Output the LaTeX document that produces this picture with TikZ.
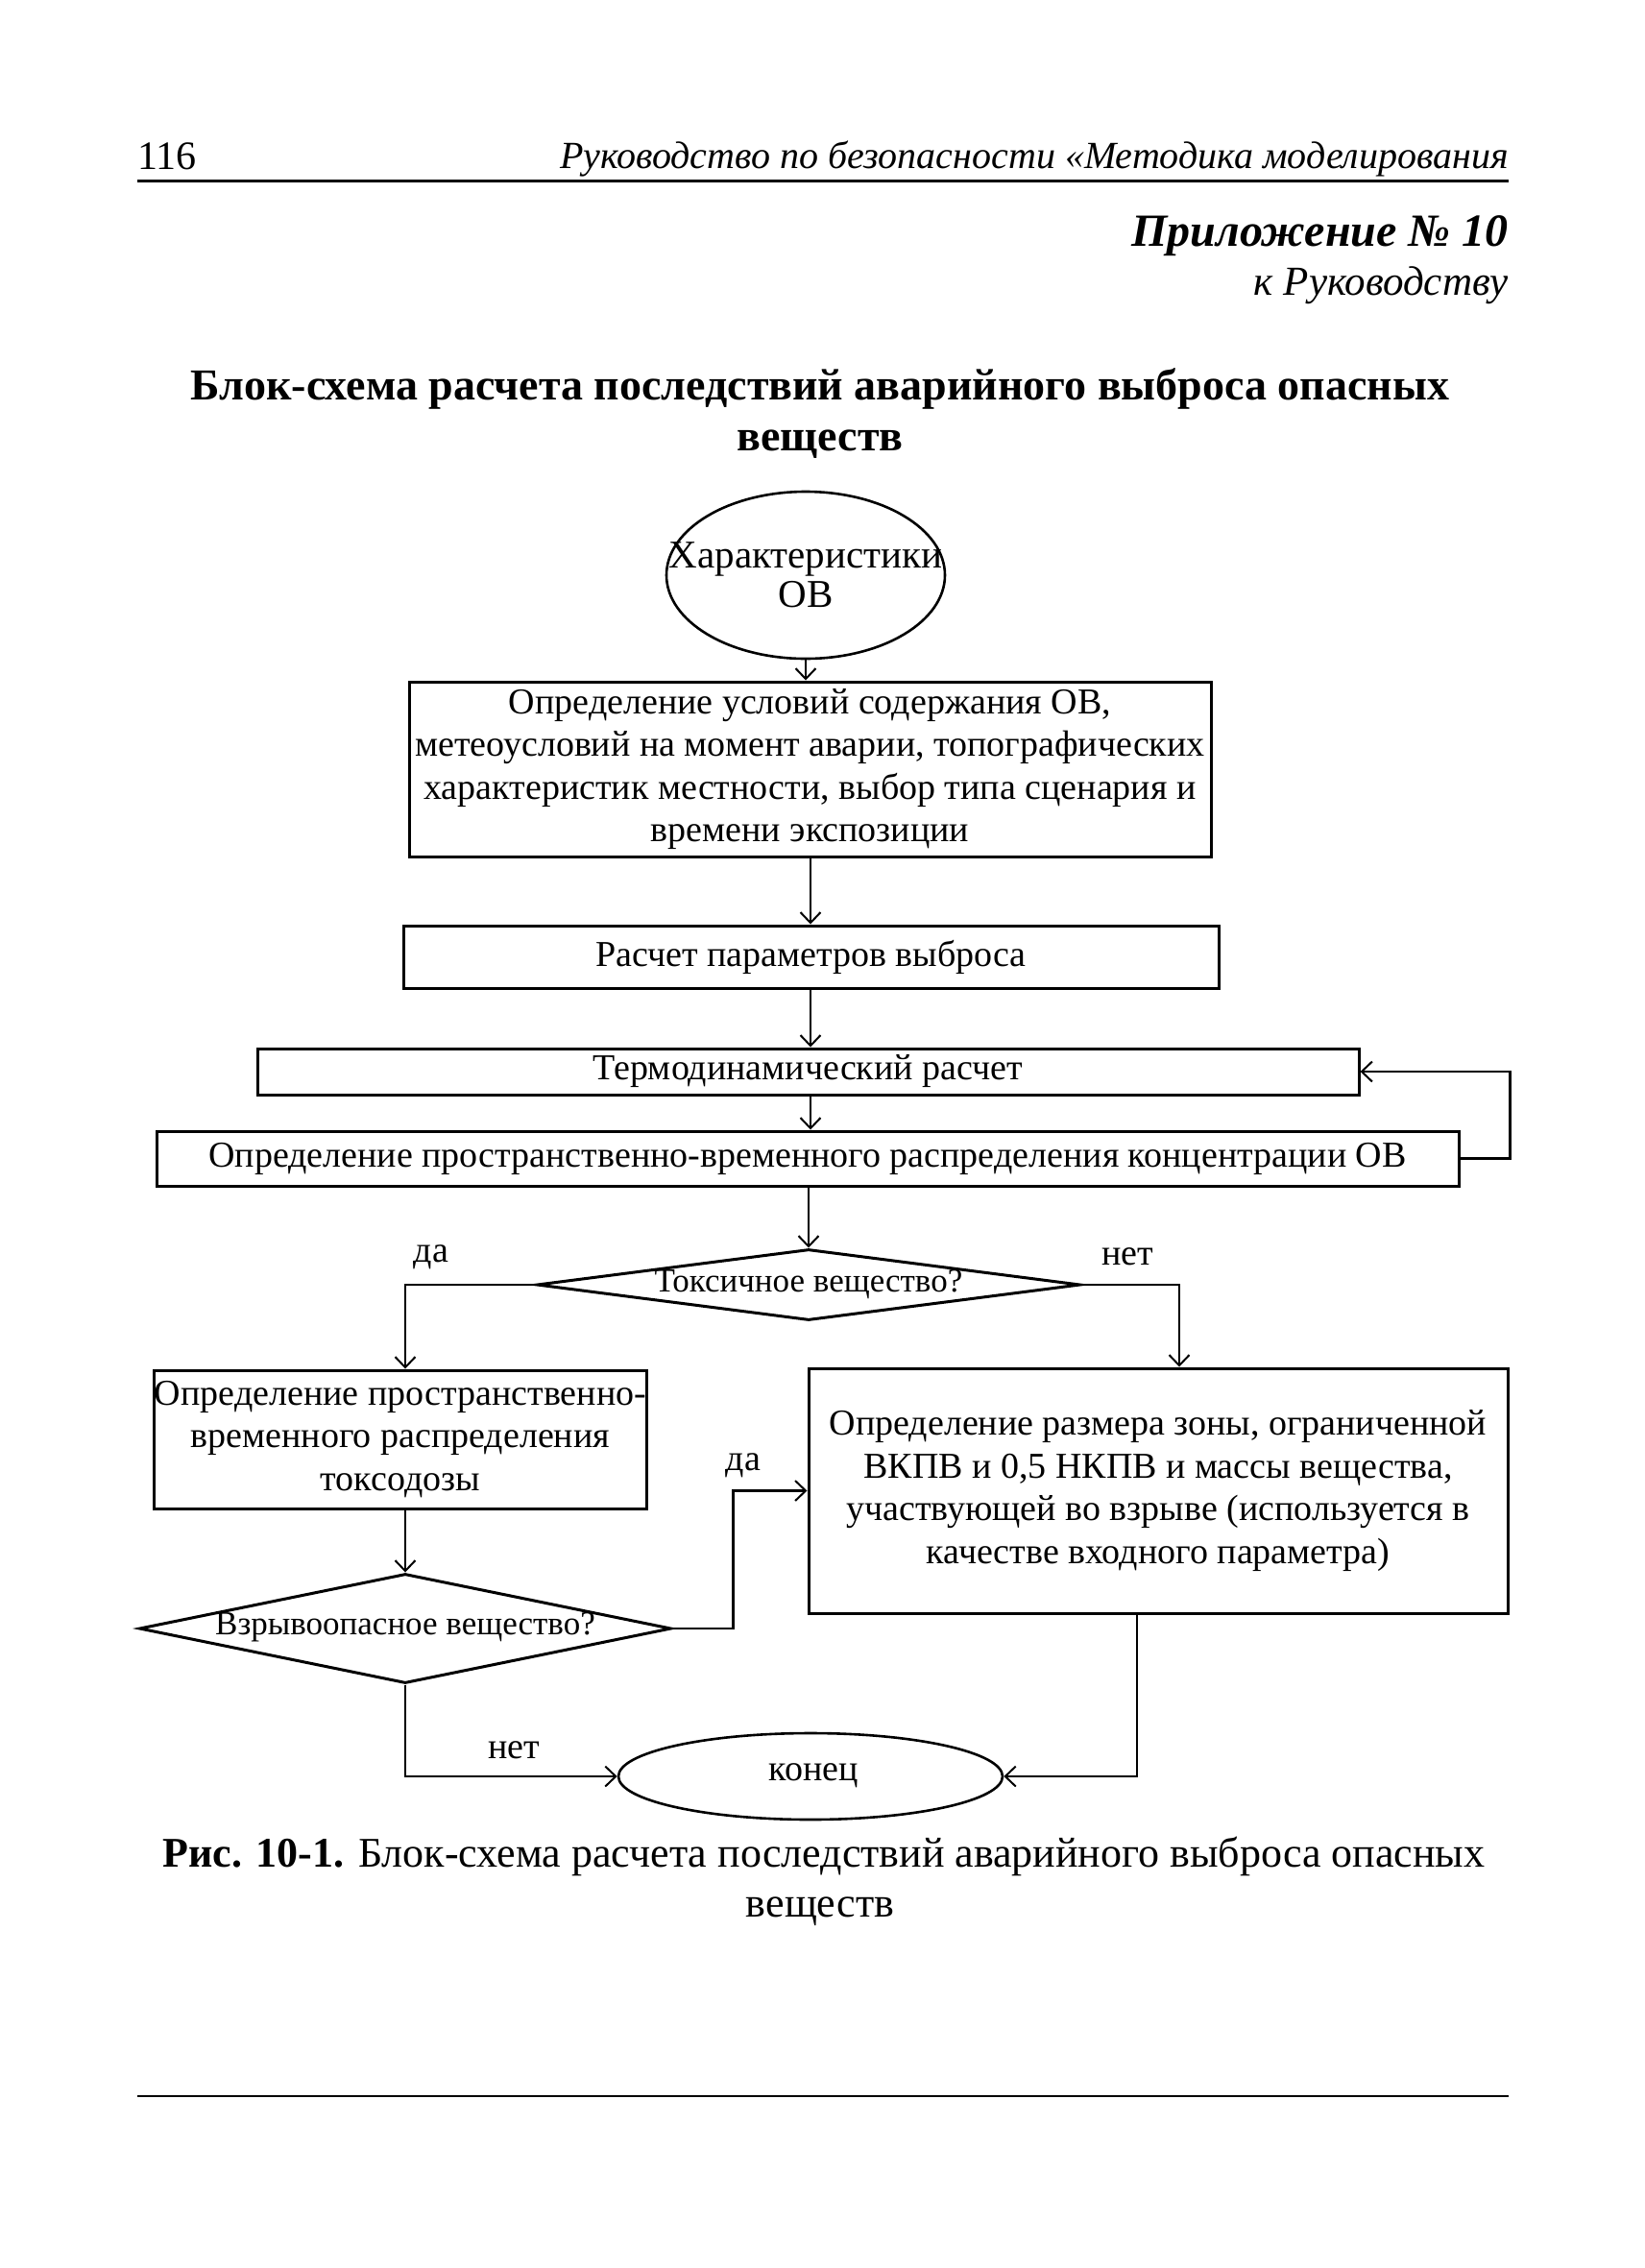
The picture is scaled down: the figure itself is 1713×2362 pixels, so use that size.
\documentclass[tikz,border=0pt]{standalone}
\usepackage{fontspec}
\setmainfont{Liberation Serif}
\usetikzlibrary{arrows.meta,shapes.geometric}
\begin{document}
\begin{tikzpicture}[x=1pt,y=-1pt,
  box/.style={draw, line width=3pt, inner sep=0pt, align=center, font=\fontsize{38}{44.5}\selectfont},
  dia/.style={draw, diamond, line width=3pt, inner sep=0pt},
  ell/.style={draw, ellipse, line width=2.6pt, inner sep=0pt},
  txt/.style={font=\fontsize{38}{44}\selectfont, inner sep=0pt, align=center},
  dtxt/.style={font=\fontsize{35}{40}\selectfont, inner sep=0pt, align=center},
  arr/.style={line width=2.2pt, -{Straight Barb[length=11pt,width=21pt,line width=2pt]}},
  rule/.style={line width=3pt}
]
\fill[white] (0,0) rectangle (1713,2362);
\useasboundingbox (0,0) rectangle (1713,2362);

% header
\node[font=\fontsize{42}{48}\selectfont, inner sep=0pt, anchor=base west] (pg) at (143,176) {116};
\node[font=\fontsize{40}{46}\selectfont\itshape, inner sep=0pt, anchor=base east] (hd) at (1571,175) {Руководство по безопасности «Методика моделирования};
\coordinate (hl1) at (143,188);
\coordinate (hl2) at (1571,188);
\draw[rule] (hl1) -- (hl2);
\node[font=\fontsize{48}{54}\selectfont\bfseries\itshape, inner sep=0pt, anchor=base east] (app) at (1571,256) {Приложение № 10};
\node[font=\fontsize{43}{48}\selectfont\itshape, inner sep=0pt, anchor=base east] (app2) at (1571,307) {к Руководству};

% title
\node[font=\fontsize{46}{53}\selectfont\bfseries, inner sep=0pt, anchor=base] (t1) at (854,416) {Блок-схема расчета последствий аварийного выброса опасных};
\node[font=\fontsize{46}{53}\selectfont\bfseries, inner sep=0pt, anchor=base] (t2) at (854,469) {веществ};

% nodes
\node[ell, minimum width=290pt, minimum height=174pt] (e1) at (839,599) {};
\node[txt, font=\fontsize{41}{41}\selectfont] (e1t) at (839,599) {Характеристики\\ОВ};

\node[box, minimum width=835pt, minimum height=182pt] (b1) at (843.5,801) {Определение условий содержания ОВ,\\метеоусловий на момент аварии, топографических\\характеристик местности, выбор типа сценария и\\времени экспозиции};
\node[box, minimum width=849pt, minimum height=65pt] (b2) at (844.5,996.5) {Расчет параметров выброса};
\node[box, minimum width=1147pt, minimum height=48pt] (b3) at (841.5,1116) {Термодинамический расчет};
\node[box, minimum width=1356pt, minimum height=57pt] (b4) at (841,1206.5) {Определение пространственно-временного распределения концентрации ОВ};

\node[dia, minimum width=566pt, minimum height=74pt] (d1) at (842,1338) {};
\node[dtxt] (d1t) at (842,1338) {Токсичное вещество?};
\node[txt] (l1) at (449,1309) {да};
\node[txt] (l2) at (1174,1309) {нет};

\node[box, minimum width=506pt, minimum height=144pt] (b5) at (417,1499) {Определение пространственно-\\временного распределения\\токсодозы};
\node[box, minimum width=728pt, minimum height=255pt] (b6) at (1206,1552.5) {Определение размера зоны, ограниченной\\ВКПВ и 0,5 НКПВ и массы вещества,\\участвующей во взрыве (используется в\\качестве входного параметра)};

\node[dia, minimum width=554pt, minimum height=114pt] (d2) at (422,1696) {};
\node[dtxt] (d2t) at (422,1695) {Взрывоопасное вещество?};
\node[txt] (l3) at (774,1526) {да};
\node[txt] (l4) at (535,1823) {нет};

\node[ell, minimum width=400pt, minimum height=90pt] (e2) at (844,1850) {};
\node[txt] (e2t) at (847,1849) {конец};

% connectors
\draw[arr] (e1.south) -- (e1.south |- b1.north);
\draw[arr] (b1.south -| 844,0) -- (b2.north -| 844,0);
\draw[arr] (b2.south -| 844,0) -- (b3.north -| 844,0);
\draw[arr] (b3.south -| 844,0) -- (b4.north -| 844,0);
\draw[arr] (b4.south -| d1.north) -- (d1.north);
\draw[arr] (b4.east) -- ++(52,0) |- (b3.east);
\draw[arr] (d1.west) -| ([xshift=5pt]b5.north);
\draw[arr] (d1.east) -| ([xshift=22pt]b6.north);
\draw[arr] (d2.north |- b5.south) -- (d2.north);
\draw[arr] (d2.east) -- ++(63,0) |- (b6.west);
\draw[arr] (d2.south) |- (e2.west);
\draw[arr] ([xshift=-22pt]b6.south) |- (e2.east);

% caption
\node[font=\fontsize{44}{50}\selectfont, inner sep=0pt, anchor=base] (c1) at (858,1944) {\textbf{Рис. 10-1.} Блок-схема расчета последствий аварийного выброса опасных};
\node[font=\fontsize{44}{50}\selectfont, inner sep=0pt, anchor=base] (c2) at (854,1996) {веществ};

\coordinate (bl1) at (143,2183);
\coordinate (bl2) at (1571,2183);
\draw[line width=2.5pt] (bl1) -- (bl2);
\end{tikzpicture}
\end{document}
